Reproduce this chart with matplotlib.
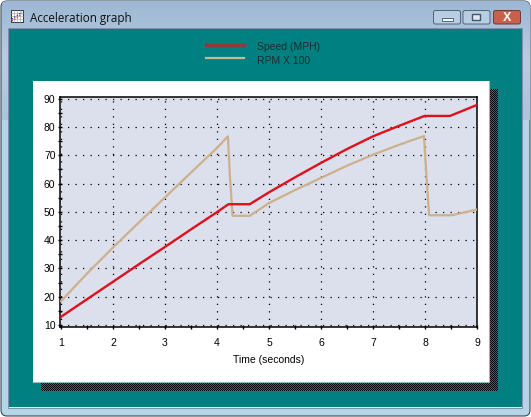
import numpy as np
import matplotlib
matplotlib.use("Agg")
import matplotlib.pyplot as plt
from matplotlib.patches import FancyBboxPatch, Rectangle
from matplotlib.lines import Line2D

plt.rcParams['font.family'] = ['Liberation Sans', 'DejaVu Sans']

window_title = "Acceleration graph"
x_label = "Time (seconds)"
speed_label = "Speed (MPH)"
rpm_label = "RPM X 100"
speed_t = [1, 1.5, 2, 2.5, 3, 3.5, 4, 4.22, 4.63, 5, 5.5, 6, 6.5, 7, 7.5, 7.99, 8.48, 9]
speed_v = [12.9, 19.1, 25.3, 31.5, 37.6, 43.8, 49.9, 52.7, 52.7, 56.9, 62.2, 67.3, 72.2, 76.7, 80.4, 83.9, 83.9, 87.8]
rpm_t = [1, 1.5, 2, 2.5, 3, 3.5, 4, 4.21, 4.25, 4.30, 4.63, 5, 5.5, 6, 6.5, 7, 7.5, 7.98, 8.03, 8.08, 8.51, 9]
rpm_v = [18.4, 28.2, 37.4, 46.3, 55.1, 63.9, 72.6, 76.7, 62, 48.6, 48.6, 53.1, 57.7, 62, 66.3, 70.2, 73.7, 76.8, 62, 48.8, 48.8, 50.8]
x_ticks = [1, 2, 3, 4, 5, 6, 7, 8, 9]
x_minor = [1.5, 2.5, 3.5, 4.5, 5.5, 6.5, 7.5, 8.5]
y_ticks = [10, 20, 30, 40, 50, 60, 70, 80, 90]
y_minor = [15, 25, 35, 45, 55, 65, 75, 85]

W, H = 531, 417
fig = plt.figure(figsize=(W / 100, H / 100), dpi=100, facecolor='white')

# window chrome, in pixel coordinates
bg = fig.add_axes([0, 0, 1, 1], zorder=0)
bg.axis('off')
frame = FancyBboxPatch((1, 1), W - 2, H - 2, boxstyle="round,pad=0,rounding_size=6",
                       fc='#b4d4e8', ec='#3c4a58', lw=0.8)
bg.add_patch(frame)
grad = np.linspace(0, 1, 64)[:, None]
title_cmap = matplotlib.colors.LinearSegmentedColormap.from_list('t', ['#9db8d4', '#b9cde2', '#a9c4dc'])
im = bg.imshow(grad, extent=(1.5, W - 1.5, 120, 1.5), cmap=title_cmap, aspect='auto', zorder=1)
im.set_clip_path(frame)
bg.add_patch(Rectangle((8, 28), 514, 380, fc='#e8f4fa', ec='#6d8396', lw=0.6, zorder=2))
bg.add_patch(Rectangle((9, 29), 513, 378, fc='#008080', ec='none', zorder=2))

# checkered drop shadow of the panel
yy, xx = np.mgrid[0:302, 0:457]
checker = np.zeros((302, 457, 4))
checker[..., 3] = ((xx + yy) % 2 == 0).astype(float)
bg.imshow(checker, extent=(41, 498, 391, 89), aspect='auto', interpolation='nearest', zorder=3)

bg.add_patch(Rectangle((33, 81), 456, 301, fc='white', ec='none', zorder=4))
bg.plot([33, 489, 489], [382, 382, 81], color='#9fb8b8', lw=0.8, zorder=4)
bg.text(30, 18, window_title, fontsize=8.4, family='Open Sans', color='#101010', va='center', zorder=5)

# title bar icon
bg.add_patch(Rectangle((11, 10), 12, 12, fc='white', ec='#333333', lw=0.7, zorder=5))
for k in (14, 17, 20):
    bg.plot([k, k], [10, 22], color='#999999', lw=0.4, zorder=5)
    bg.plot([11, 23], [k - 1, k - 1], color='#999999', lw=0.4, zorder=5)
bg.plot([12, 22], [21, 14], color='#c01010', lw=0.8, ls=':', zorder=6)
bg.plot([12, 22], [19, 12], color='#1010c0', lw=0.8, ls=':', zorder=6)

# caption buttons
def button(x0, w, fc, ec):
    bg.add_patch(FancyBboxPatch((x0, 10.5), w, 13.5, boxstyle="round,pad=0,rounding_size=2",
                                fc=fc, ec=ec, lw=0.7, zorder=5))
button(433.5, 27, '#b7cde2', '#4f6478')
button(463, 27, '#b7cde2', '#4f6478')
button(493.5, 27, '#c8604c', '#6d3a34')
bg.add_patch(Rectangle((442, 18), 11, 3, fc='#f2f6fa', ec='#45566a', lw=0.6, zorder=6))
bg.add_patch(Rectangle((472, 14), 8, 6, fc='#dfe8f0', ec='#45566a', lw=1.0, zorder=6))
bg.text(507, 17.5, "X", fontsize=9, fontweight='bold', color='white', ha='center', va='center', zorder=6)
bg.set_xlim(0, W)
bg.set_ylim(H, 0)

# plot
L, R, T, B = 60, 477, 97, 327
ax = fig.add_axes([L / W, 1 - B / H, (R - L) / W, (B - T) / H], zorder=2)
ax.set_facecolor('#dcdfec')
px_x = 52.0
px_y = 2.84
ax.set_xlim(1 - 1 / px_x, 9)
ax.set_ylim(10 - 2 / px_y, 90 + 1.7 / px_y)
ax.plot(speed_t, speed_v, color='#e0101c', lw=1.7, zorder=4, label=speed_label)
ax.plot(rpm_t, rpm_v, color='#cdb08c', lw=1.6, zorder=3, label=rpm_label)
ax.set_xticks(x_ticks)
ax.set_xticks(x_minor, minor=True)
ax.set_yticks(y_ticks)
ax.set_yticks(y_minor, minor=True)
ax.grid(True, which='major', color='black', lw=0.9, linestyle=(0, (1, 5.0)))
ax.set_axisbelow(True)
ax.tick_params(axis='both', which='both', direction='inout', width=1.0, colors='black',
               labelsize=7.5, length=3.5)
ax.tick_params(axis='x', which='major', pad=6)
ax.tick_params(axis='y', which='major', pad=1.5)
for s in ax.spines.values():
    s.set_linewidth(1.1)
    s.set_color('black')
ax.set_xlabel(x_label, fontsize=7.5, labelpad=5, color='black')

leg = fig.legend(handles=[Line2D([], [], color='#8a3c3c', lw=2.4), Line2D([], [], color='#c4ba92', lw=1.6)],
                 labels=[speed_label, rpm_label], loc='center left',
                 bbox_to_anchor=(206 / W, 1 - 52.5 / H), frameon=False, fontsize=7.5,
                 handlelength=3.6, handletextpad=1.25, labelspacing=0.3,
                 borderpad=0, borderaxespad=0)
for t in leg.get_texts():
    t.set_color('#1c2f2f')
    t.set_position((0, -1.5))

fig.savefig('out.png', dpi=100, facecolor=fig.get_facecolor())
